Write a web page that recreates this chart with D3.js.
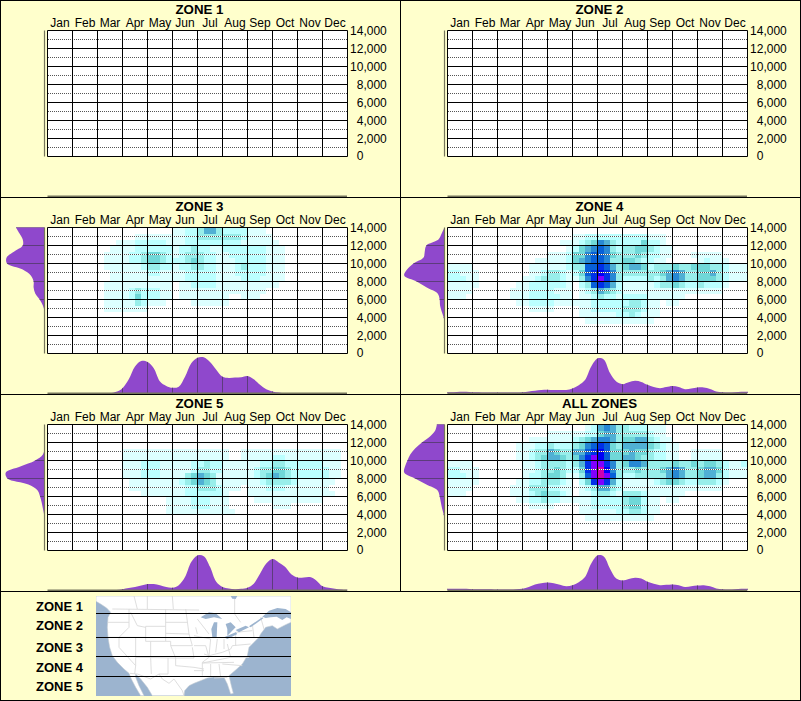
<!DOCTYPE html>
<html><head><meta charset="utf-8">
<script src="https://cdn.jsdelivr.net/npm/d3@7/dist/d3.min.js"></script>
<style>html,body{margin:0;padding:0;background:#FFFFCC}svg{display:block}text{font-family:"Liberation Sans",Arial,sans-serif}</style>
</head><body><svg id="c" width="801" height="701"></svg>
<script>
const months=["Jan","Feb","Mar","Apr","May","Jun","Jul","Aug","Sep","Oct","Nov","Dec"];
const elevTicks=[0,2000,4000,6000,8000,10000,12000,14000];
const elevMinor=[1000,3000,5000,7000,9000,11000,13000];
const elevLabels=["0","2,000","4,000","6,000","8,000","10,000","12,000","14,000"];
const titles=["ZONE 1","ZONE 2","ZONE 3","ZONE 4","ZONE 5","ALL ZONES"];
const legendNames=["ZONE 1","ZONE 2","ZONE 3","ZONE 4","ZONE 5"];
const levelColors=["#FFFFFF","#DDFFFF","#BBFFFF","#98EEEA","#70D8D8","#50B0D4","#2888D4","#0860D8","#0030E8","#0000F8","#8000FF","#D000B0"];

// heat levels, one entry per 667 m band from the top; "startColumn:levels" segments (half-month columns)
const heat3=[
"20:1122 3 55 3 2222 111",
"14:111111 1122 3333333 2 1111",
"11:111 22222 1 1122 2222222 111111",
"10:1111 222222 1223 2211222 2222 111",
"9:11112 234432 1233 32211 222222 111",
"9:11112 234432 2234 32211 122222 111",
"9:11111 123322 1223 32211 123222 111",
"10:1111 112211 1122 22211 1 22222 111",
"10:1111 111111 11 22222 1111 222 1111",
"9:1111 1111111 0 11 2222 111 1111111",
"9:1111 2322211 0 11111111 111111",
"9:1111 2422211 0 11111111 00 111",
"9:11111 321110000 111111",
"9:1111111",
"","","","","","",""];
const heat4=[
"",
"20:11 2222 22222 2 111",
"18:11 1 2 3 4|24:6 5 3 2|28:2 2 2 4 2 2 1",
"19:1 2|21:4 5 6|24:7 6 3 2|28:3 3 4 4 3 2 1 1",
"16:111 2|20:4 4 6 7|24:7 6 4 3|28:3 3 4 3 2 2 1 1|39:11111",
"14:11111 2|20:4 5 6 7|24:7 6 3 3|28:4 4 3 2 2 1 1|40:1 2 1 1 1",
"0:1111|13:111111 2|20:3 3 7 7|24:8 7 5 3|28:4 5 5 4 2 3 3 3 4 3 3 4 4 4 3 3 2 1 1 1",
"0:2211 1|13:1 1 2 3 3 2 1|20:2 4 7 8|24:9 8 6 3|28:3 3 3 3 3 3 4 5 6 5 3 3 4 4 5 3 2 1 1 1",
"0:2221 1|12:1 1 2 3 3 3 2 1|20:1 3 6 8|24:A 8 6 3|28:2 2 2 2 3 2 3 5 6 5 3 3 4 4 4 3 2 1 1 1",
"0:11111|11:1 1 2 2 2 2 2 2 1|21:2 3 7|24:8 7 5 2|28:1 1 1 1 1 2 3 3 4 3 2 2 3 2 2 2 1",
"0:1111|10:111 2222 1 1 1|21:1 2 3|24:5 4 3 2|28:1111111111111111",
"0:111|10:111 2222 2 1 1|21:1 1 2|24:3 2 2 1|28:2 2 2 2 1 1 1 1 1 1",
"11:11 2222 111|20:1 1 1 2|24:2 2 2 2|28:2 3 3 2 1 1|35:11",
"13:1111|21:1 1 2|24:2 2 2 2|28:3 3 3 2 1 1",
"21:1 1 1|24:1 1 1 2|28:2 3 2 1 1 1",
"22:11111111111",
"","","","",""];
const heat5=[
"","","","",
"12:11111111111111111 00 1111111111111111",
"12:11111111111111111 00 11111 22 111111111",
"12:111 222 111 11 2 2 3 2 2 1 1 1 1 1 1 2 2 3 3 2 2 2 2 2 2 1 1 1",
"12:111 222 111 1 1 2 3 3 2 2 1 1 1 1 1 2 3 3 4 4 3 2 2 2 2 2 2 1 1",
"12:111 222 111 1 3 4 5 4 3 1 1 1 1 1 1 2 3 4 5 4 3 2 2 2 2 2 2 1 1",
"13:11 1111 1 1 2 3 4 5 4 3 1 1 1 1 1 1 1 2 3 3 3 3 2 1 1 1 1 1 1",
"13:11111 111 1 2 2 3 3 3 2 1 1 1 0 1 1 1 2 2 2 1 111111",
"15:1111111 222222 1 000 11111111111111",
"19:1111 222 111 0000 11111111111",
"19:1111 222 111 0000000 111",
"19:11111111111",
"","","","","",""];
const heatAll=[
"22:1 2|24:5 6 5 3|28:3 2 2 2 1 1 1",
"16:1111 11 22|24:4 5 5 3|28:3 3 3 3 2 1 1",
"13:1111111 2 3 4 5|24:6 6 5 3|28:4 4 5 5 3 2 1 1",
"11:11 1 2 2 3 2 2 2|20:3 4 6 7|24:8 7 4 3|28:5 5 5 5 4 3 2 1 1",
"11:11 2 3 3 5 4 3 3|20:5 5 7 8|24:9 7 4 4|28:4 5 4 4 3 2 2 1 1|39:11111",
"11:11 2 3 4 5 5 4 3|20:4 6 8 A|24:9 7 4 4|28:5 5 4 3 3 2 2 1 1|39:11111",
"0:1111|12:1 1 2 3 3 3 3 2|20:3 5 8 A|24:A 8 6 3|28:4 6 6 5 3 3 3 3 4 3 3 4 3 4 4 3 2 1 1 2",
"0:2211 1|12:1 1 2 3 3 4 3 2|20:2 4 8 A|24:B 9 6 3|28:3 3 4 3 3 3 4 5 6 5 3 3 4 5 5 4 2 1 1 1",
"0:2221 1|12:1 2 2 3 4 4 3 1|20:1 3 7 A|24:B A 7 3|28:2 2 3 3 3 3 3 5 6 5 3 3 4 5 5 3 2 1 1 1",
"0:11111|11:1 1 2 2 3 3 3 2 1|21:2 4 8|24:A 8 5 2|28:1 1 1 1 1 2 3 4 4 3 2 2 3 3 3 2 1",
"0:1111|10:111 3 3 3 2 2 1 1|21:1 2 3|24:5 5 3 2|28:1111111111111111",
"0:111|10:111 2 3 4 3 3 2 1|21:1 1 2|24:3 3 2 1|28:3 3 3 2 1 1 1 1 1 1",
"11:11 2 2 3 2 2 1 1|20:1 1 1 2|24:2 2 2 2|28:3 4 4 2 1 1|35:11",
"13:1111|21:1 1 2|24:2 2 2 2|28:3 4 4 2 1 1",
"21:1 1 1|24:1 1 1 2|28:2 3 3 2 1 1",
"22:11111111111",
"","","","",""];

// marginal densities (0-100): by half month along the bottom
const monthly3=[0,0,0,0,0,0,0,0,0,0,0,4,14,38,73,88,85,68,32,20,15,18,45,82,97,98,85,64,45,42,43,44,47,38,23,11,5,2,0,0,0,0,0,0,0,0,0,0,0];
const monthly4=[3,3,4,4,3,3,2,2,2,2,2,2,3,5,7,9,10,9,9,9,13,22,36,73,95,92,55,32,25,30,34,31,23,17,14,17,20,17,11,13,16,16,12,5,3,2,3,4,4];
const monthly5=[0,0,0,0,0,0,0,0,0,0,0,1,3,6,9,13,17,17,14,9,7,14,36,77,95,93,64,23,9,5,3,4,7,18,45,73,85,76,64,44,35,35,36,27,11,7,4,2,1];
const monthlyAll=[4,4,4,4,3,3,3,3,2,2,2,3,4,9,16,19,21,19,15,11,14,22,36,73,95,92,59,32,27,31,34,32,23,18,14,15,16,14,9,11,13,14,11,5,3,2,3,4,4];
// marginal densities (0-100): by 667 m band edge down the left
const elev3=[71,62,54,54,75,94,93,54,34,27,27,23,12,4,0,0,0,0,0,0,0,0];
const elev4=[0,7,15,45,49,52,77,93,100,69,44,17,12,11,7,2,0,0,0,0,0,0];
const elev5=[0,0,0,0,0,4,23,60,96,92,40,17,11,7,4,1,0,0,0,0,0,0];
const elevAll=[19,23,36,56,73,85,92,98,100,73,45,17,12,9,6,2,0,0,0,0,0,0];

const panelHeat=[null,null,heat3,heat4,heat5,heatAll];
const panelMonthly=[null,null,monthly3,monthly4,monthly5,monthlyAll];
const panelElev=[null,null,elev3,elev4,elev5,elevAll];

// reference map outlines, in map-image units
const landOutline=[[6,6],[591,6],[591,85],[575,92],[550,105],[535,95],[515,100],[500,120],[495,130],[480,145],[465,160],[460,185],[445,210],[425,228],[405,245],[412,275],[418,298],[410,300],[400,270],[390,250],[365,248],[340,252],[325,258],[300,268],[285,275],[272,290],[270,305],[175,305],[160,280],[140,255],[125,240],[125,250],[135,275],[150,305],[140,305],[125,280],[112,255],[105,238],[90,225],[70,205],[55,185],[47,160],[42,130],[40,100],[42,70],[50,55],[38,42],[20,30],[6,22]];
const waterShapes=[
[[410,6],[430,6],[425,15],[415,14]],
[[505,68],[525,50],[550,42],[575,45],[591,55],[591,75],[578,70],[565,78],[548,68],[530,70],[515,72]],
[[320,70],[345,55],[365,58],[385,75],[360,70],[335,75]],
[[360,85],[370,85],[368,130],[355,130],[352,105]],
[[395,90],[410,85],[425,100],[400,125],[400,105]],
[[390,130],[425,115],[430,120],[400,135]],
[[425,108],[455,95],[465,100],[435,115]],
[[465,97],[505,70],[508,73],[470,100]]
];
const stateLines=[
[[55,45],[315,48]],[[120,6],[130,45]],[[160,6],[160,45]],[[235,6],[238,45]],[[422,15],[422,60],[440,85]],
[[42,85],[75,85],[105,85]],[[105,45],[105,100],[75,130]],[[110,55],[130,95],[155,100]],
[[215,45],[215,142]],[[155,97],[215,97]],[[155,97],[155,142],[215,142]],
[[215,85],[280,85]],[[275,45],[285,120]],[[215,118],[285,120],[295,155]],
[[215,142],[230,142],[230,155],[295,155]],[[42,130],[155,130]],[[75,130],[75,160],[125,215],[122,240]],
[[125,130],[125,190],[125,215]],[[125,190],[245,192]],[[170,142],[170,192],[172,240]],[[222,192],[222,240],[195,240]],
[[108,238],[130,240],[170,255],[195,240],[205,255],[225,268],[240,255],[265,290],[270,305]],
[[230,155],[245,192],[300,192]],[[295,160],[300,192]],[[245,192],[245,215],[300,220],[330,225]],
[[300,125],[350,135]],[[300,155],[335,155],[345,190],[325,205],[325,245]],[[350,135],[345,185],[330,180]],
[[370,135],[365,175]],[[390,135],[390,165]],[[325,207],[410,190],[465,190]],[[345,185],[385,175],[410,165],[415,155]],
[[425,115],[425,155]],[[425,115],[475,110]],[[415,155],[470,150]],[[475,90],[480,130]],[[500,70],[510,105]],
[[325,207],[420,205]],[[385,210],[445,215]],[[350,210],[350,250]],[[375,210],[380,250]],[[360,252],[400,250]],[[300,230],[330,230]],
[[305,100],[310,120]],[[310,75],[345,120]],[[400,150],[410,190]]
];
const zoneBoundaries=[613,637.3,656.3,676.3];
const legendBaselines=[611,630,652,672,691];

const svg=d3.select("#c");
svg.append("rect").attr("width",801).attr("height",701).attr("fill","#FFFFCC");

const plotW=300,plotH=126;
const panelOffsets=[[0,0],[400,0],[0,197],[400,197],[0,394],[400,394]];
const xBand=d3.scaleBand().domain(months).range([47.5,47.5+plotW]);
const xCol=d3.scaleLinear().domain([0,48]).range([47.5,47.5+plotW]);
const yElev=d3.scaleLinear().domain([0,14000]).range([30.5+plotH,30.5]);
const yRow=d3.scaleLinear().domain([0,21]).range([30.5,30.5+plotH]);
const hBottom=d3.scaleLinear().domain([0,100]).range([0,36.7]);
const wLeft=d3.scaleLinear().domain([0,100]).range([0,40.3]);
const baseBottom=196.3,baseLeft=44.5;
const purple="#8F48CC",purpleLine="#5C3C7C",baseColor="#76765C";
const curve=d3.curveCatmullRom.alpha(0.5);

function parseHeat(rows){
  const out=[];
  rows.forEach((s,r)=>{
    if(!s)return;
    s.split("|").forEach(seg=>{
      const [st,body]=seg.split(":");
      body.replace(/\s/g,"").split("").forEach((ch,i)=>{
        const lv=parseInt(ch,16);
        if(lv>0)out.push({r,c:+st+i,lv});
      });
    });
  });
  return out;
}

panelOffsets.forEach((off,i)=>{
  const g=svg.append("g").attr("transform",`translate(${off[0]},${off[1]})`);
  g.append("text").attr("x",199.5).attr("y",14).attr("text-anchor","middle")
    .attr("font-size",13.3).attr("font-weight","bold").attr("fill","#000").text(titles[i]);
  g.selectAll("text.m").data(months).enter().append("text").attr("class","m")
    .attr("x",d=>xBand(d)+xBand.bandwidth()/2).attr("y",26.5).attr("text-anchor","middle")
    .attr("font-size",12).attr("fill","#000").text(d=>d);

  g.append("rect").attr("x",47.5).attr("y",30.5).attr("width",plotW).attr("height",plotH).attr("fill","#fff");
  if(panelHeat[i]){
    g.selectAll("rect.h").data(parseHeat(panelHeat[i])).enter().append("rect").attr("class","h")
      .attr("x",d=>xCol(d.c)).attr("y",d=>yRow(d.r))
      .attr("width",xCol(1)-xCol(0)+.2).attr("height",yRow(1)-yRow(0)+.1)
      .attr("fill",d=>levelColors[d.lv]).attr("shape-rendering","crispEdges");
  }
  // minor gridlines: alternating white and dark dots
  g.selectAll("line.mw").data(elevMinor).enter().append("line").attr("class","mw")
    .attr("x1",49).attr("x2",347).attr("y1",d=>yElev(d)).attr("y2",d=>yElev(d))
    .attr("stroke","#fff").attr("stroke-dasharray","1,1");
  g.selectAll("line.mn").data(elevMinor).enter().append("line").attr("class","mn")
    .attr("x1",48).attr("x2",347).attr("y1",d=>yElev(d)).attr("y2",d=>yElev(d))
    .attr("stroke","#555").attr("stroke-dasharray","1,1");
  g.selectAll("line.gh").data(elevTicks).enter().append("line").attr("class","gh")
    .attr("x1",47.5).attr("x2",347.5).attr("y1",d=>yElev(d)).attr("y2",d=>yElev(d)).attr("stroke","#000");
  g.selectAll("line.gv").data(d3.range(13)).enter().append("line").attr("class","gv")
    .attr("x1",d=>47.5+d*xBand.bandwidth()).attr("x2",d=>47.5+d*xBand.bandwidth())
    .attr("y1",30.5).attr("y2",156.5).attr("stroke","#000");

  g.selectAll("text.y").data(elevTicks).enter().append("text").attr("class","y")
    .attr("x",d=>d===0?356.7:386.8).attr("y",d=>yElev(d)+(d===0?3.5:4.5))
    .attr("text-anchor",d=>d===0?"start":"end").attr("font-size",12).attr("fill","#000")
    .text((d,k)=>elevLabels[k]);

  if(panelMonthly[i]){
    const area=d3.area().x((d,k)=>xCol(k)).y0(baseBottom).y1(d=>baseBottom-hBottom(d)).curve(curve);
    const pth=area(panelMonthly[i]);
    const cid="cb"+i;
    g.append("clipPath").attr("id",cid).append("path").attr("d",pth);
    g.append("path").attr("d",pth).attr("fill",purple);
    g.append("g").attr("clip-path",`url(#${cid})`).selectAll("line").data(d3.range(13)).enter().append("line")
      .attr("x1",d=>47.5+d*25).attr("x2",d=>47.5+d*25).attr("y1",150).attr("y2",197).attr("stroke",purpleLine);
    const areaL=d3.area().y((d,k)=>yRow(k)).x0(baseLeft).x1(d=>baseLeft-wLeft(d)).curve(curve);
    const pl=areaL(panelElev[i]);
    const cl="cl"+i;
    g.append("clipPath").attr("id",cl).append("path").attr("d",pl);
    g.append("path").attr("d",pl).attr("fill",purple);
    g.append("g").attr("clip-path",`url(#${cl})`).selectAll("line").data(elevTicks).enter().append("line")
      .attr("x1",0).attr("x2",46).attr("y1",d=>yElev(d)).attr("y2",d=>yElev(d)).attr("stroke",purpleLine);
  }
  g.append("line").attr("x1",47.5).attr("x2",347).attr("y1",baseBottom).attr("y2",baseBottom).attr("stroke",baseColor).attr("stroke-width",1.4);
  g.append("line").attr("x1",baseLeft).attr("x2",baseLeft).attr("y1",30.5).attr("y2",156.5).attr("stroke",baseColor).attr("stroke-width",1.2);
});

// separators
[197.5,394.5,591.5].forEach(y=>svg.append("line").attr("x1",0).attr("x2",801).attr("y1",y).attr("y2",y).attr("stroke","#000"));
svg.append("line").attr("x1",400.5).attr("x2",400.5).attr("y1",0).attr("y2",591.5).attr("stroke","#000");
svg.append("rect").attr("x",.5).attr("y",.5).attr("width",800).attr("height",700).attr("fill","none").attr("stroke","#000");

// legend + map
svg.selectAll("text.leg").data(legendNames).enter().append("text").attr("class","leg")
  .attr("x",36).attr("y",(d,k)=>legendBaselines[k]).attr("font-size",13).attr("font-weight","bold").attr("fill","#000").text(d=>d);
const mx=d3.scaleLinear().domain([0,600]).range([94,294]);
const my=d3.scaleLinear().domain([0,312]).range([594,698]);
const mapLine=d3.line().x(d=>mx(d[0])).y(d=>my(d[1]));
const mapG=svg.append("g");
svg.append("clipPath").attr("id","mapclip").append("rect").attr("x",96).attr("y",596).attr("width",195).attr("height",100);
mapG.attr("clip-path","url(#mapclip)");
mapG.append("rect").attr("x",96).attr("y",596).attr("width",195).attr("height",100).attr("fill","#9CB4CF");
mapG.append("path").attr("d",mapLine(landOutline)+"Z").attr("fill","#fff").attr("stroke","#C4CCD4").attr("stroke-width",.6);
mapG.selectAll("path.st").data(stateLines).enter().append("path").attr("class","st")
  .attr("d",d=>mapLine(d)).attr("fill","none").attr("stroke","#DADADA").attr("stroke-width",.9);
mapG.selectAll("path.w").data(waterShapes).enter().append("path").attr("class","w")
  .attr("d",d=>mapLine(d)+"Z").attr("fill","#9CB4CF");
svg.selectAll("line.zb").data(zoneBoundaries).enter().append("line").attr("class","zb")
  .attr("x1",96).attr("x2",291).attr("y1",d=>Math.floor(d)+.5).attr("y2",d=>Math.floor(d)+.5).attr("stroke","#000");
</script></body></html>
